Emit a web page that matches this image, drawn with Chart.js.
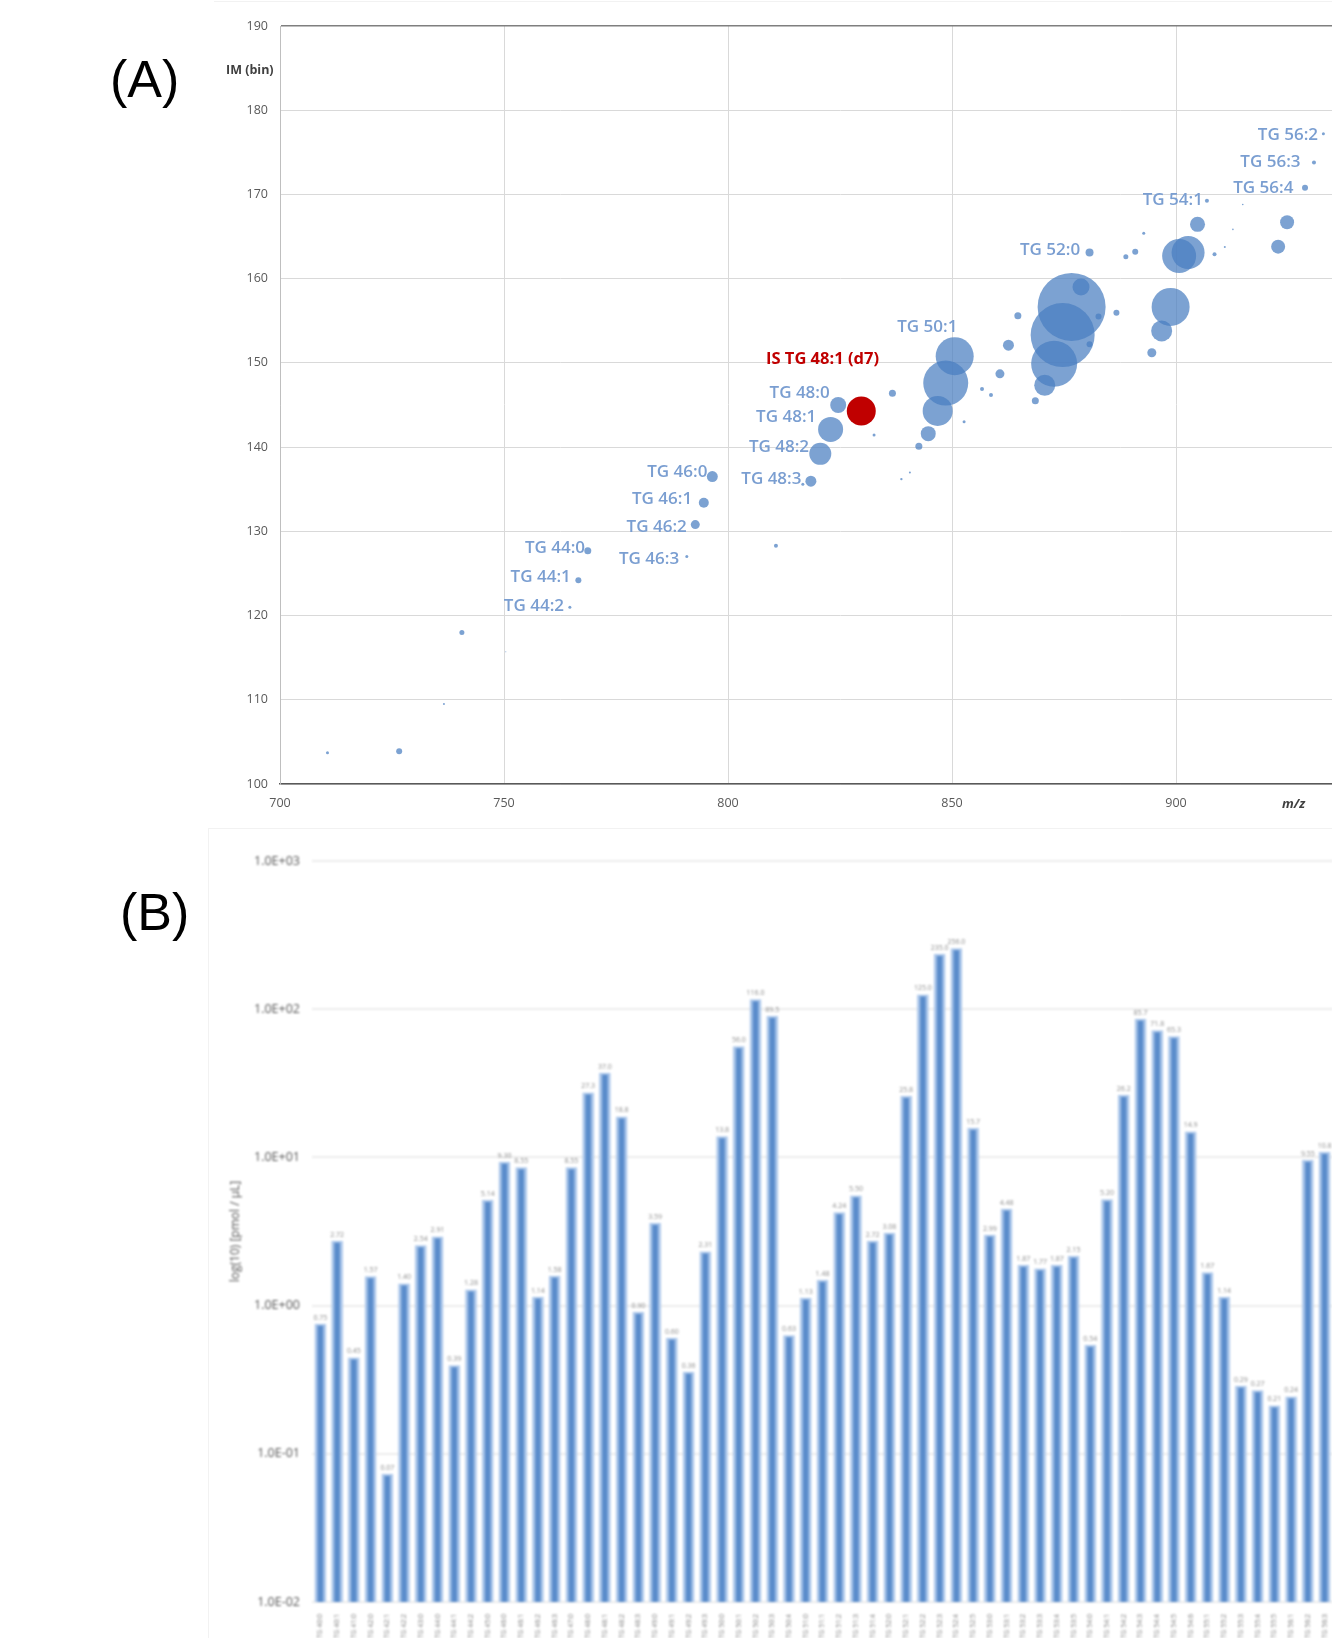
<!DOCTYPE html>
<html><head><meta charset="utf-8">
<script src="https://cdn.jsdelivr.net/npm/chart.js@4.4.1/dist/chart.umd.min.js"></script>
<style>
html,body{margin:0;padding:0;background:#fff;}
body{width:1332px;height:1638px;overflow:hidden;position:relative;font-family:'Open Sans',sans-serif;}
.plabel{position:absolute;font-family:'Liberation Sans',Arial,sans-serif;font-size:52px;line-height:52px;color:#000;}
#cA{position:absolute;left:0;top:0;}
#cB{position:absolute;left:0;top:830px;filter:blur(1px);}
.axt{position:absolute;line-height:16px;white-space:nowrap;color:#404040;}
</style></head><body>
<div style="position:absolute;left:214px;top:1px;width:1200px;height:0;border-top:1px solid #f2f2f2;"></div>
<div style="position:absolute;left:208px;top:828px;width:1200px;height:900px;border-top:1px solid #f2f2f2;border-left:1px solid #f2f2f2;"></div>
<canvas id="cA" width="1400" height="830"></canvas>
<canvas id="cB" width="1337" height="808"></canvas>
<div class="plabel" style="left:110px;top:53px;">(A)</div>
<div class="plabel" style="left:120px;top:886px;">(B)</div>
<div class="axt" style="left:226px;top:62px;font-weight:700;font-size:12.5px;">IM (bin)</div>
<div class="axt" style="left:1282px;top:795px;font-weight:700;font-style:italic;font-size:13px;">m/z</div>
<script>
// ---------- Panel A : m/z vs ion mobility bubble data ----------
const mz   = [710.6,726.6,736.6,740.6,750.4,764.7,766.6,768.7,790.8,792.7,794.6,796.5,810.7,816.7,818.5,820.6,822.9,824.6,
              832.6,836.7,838.7,840.6,842.6,844.7,846.8,848.6,850.6,852.7,856.7,858.7,860.7,862.6,864.7,868.6,870.7,872.8,
              874.7,876.7,878.8,880.7,882.7,880.7,886.7,888.8,890.9,892.8,894.6,896.8,898.8,900.7,902.7,904.8,906.9,908.6,
              910.9,912.7,914.9,922.8,924.8,928.8,930.8,932.9];
const im   = [103.7,103.9,109.5,118.0,115.7,121.0,124.2,127.7,127.0,130.8,133.4,136.5,128.3,135.6,135.95,139.2,142.1,145.0,
              141.45,146.4,136.2,137.0,140.1,141.6,144.3,147.6,150.8,143.0,146.9,146.2,148.7,152.1,155.6,145.5,147.35,149.9,
              153.3,156.65,159.0,152.2,155.5,163.1,155.95,162.6,163.2,165.4,151.2,153.8,156.65,162.7,163.1,166.45,169.25,162.9,
              163.75,165.85,168.8,163.8,166.7,170.8,173.8,177.2];
const size = [1.5,3,1,2.5,0.5,1.5,3,3.5,1.5,4.5,5,5.5,2,1.5,5.5,11,12.5,8,
              1.5,3.5,1.2,1,3.5,7.5,15,22.5,19,1.5,2,2,4.5,5.5,3.5,3.5,10.5,23,
              32,34,8.5,3,3,4,3,2.5,3,1.5,4.5,10.5,19,17,16.5,7.5,2,2,
              1,0.8,0.8,7,7,3,2,1.5];
const isMz = [829.75], isIm = [144.3], isSize = [14.5];

const labelText = ['TG 44:0','TG 44:1','TG 44:2','TG 46:3','TG 46:2','TG 46:1','TG 46:0','TG 48:3','TG 48:2','TG 48:1','TG 48:0',
                   'TG 50:1','TG 52:0','TG 54:1','TG 56:4','TG 56:3','TG 56:2'];
const labelMz   = [768.1,764.9,763.4,789.1,790.8,792.0,795.4,816.4,818.1,819.7,822.7,851.2,878.6,906.0,926.2,927.8,931.7];
const labelIm   = [128.02,124.58,121.13,126.72,130.45,133.84,137.02,136.22,139.95,143.59,146.44,154.28,163.40,169.34,170.80,173.89,177.06];
const isLabelText = ['IS TG 48:1 (d7)'], isLabelMz = [833.7], isLabelIm = [150.41];

const xTicksA = [700,750,800,850,900];
const yTicksA = [100,110,120,130,140,150,160,170,180,190];

// ---------- Panel B : concentrations (log scale) ----------
const species = ['TG 40:0','TG 40:1','TG 41:0','TG 42:0','TG 42:1','TG 42:2','TG 43:0','TG 44:0','TG 44:1','TG 44:2',
                 'TG 45:0','TG 46:0','TG 46:1','TG 46:2','TG 46:3','TG 47:0','TG 48:0','TG 48:1','TG 48:2','TG 48:3',
                 'TG 49:0','TG 49:1','TG 49:2','TG 49:3','TG 50:0','TG 50:1','TG 50:2','TG 50:3','TG 50:4','TG 51:0',
                 'TG 51:1','TG 51:2','TG 51:3','TG 51:4','TG 52:0','TG 52:1','TG 52:2','TG 52:3','TG 52:4','TG 52:5',
                 'TG 53:0','TG 53:1','TG 53:2','TG 53:3','TG 53:4','TG 53:5','TG 54:0','TG 54:1','TG 54:2','TG 54:3',
                 'TG 54:4','TG 54:5','TG 54:6','TG 55:1','TG 55:2','TG 55:3','TG 55:4','TG 55:5','TG 56:1','TG 56:2','TG 56:3'];
const conc = [0.75,2.72,0.445,1.57,0.0726,1.40,2.54,2.91,0.394,1.28,
              5.14,9.3,8.55,1.14,1.58,8.55,27.3,37.0,18.8,0.90,
              3.59,0.603,0.356,2.31,13.8,56.0,116,89.5,0.627,1.125,
              1.48,4.24,5.5,2.72,3.08,25.8,125,235,256,15.7,
              2.99,4.48,1.87,1.77,1.87,2.15,0.54,5.2,26.2,85.7,
              71.8,65.3,14.9,1.67,1.14,0.286,0.267,0.211,0.242,9.55,10.8];
const yTicksB = [0.01,0.1,1,10,100,1000];

function expLabel(v){
  const e = Math.round(Math.log10(v));
  return '1.0E' + (e < 0 ? '-' : '+') + String(Math.abs(e)).padStart(2,'0');
}
function valLabel(v){ return v >= 10 ? v.toFixed(1) : v.toFixed(2); }

const pointLabels = {
  id:'pointLabels',
  afterDatasetsDraw(chart){
    const {ctx, scales:{x,y}} = chart;
    ctx.save();
    ctx.textAlign = 'right';
    ctx.textBaseline = 'middle';
    ctx.font = "600 17px 'Open Sans'";
    ctx.fillStyle = '#7a9ed1';
    labelText.forEach((t,i)=>ctx.fillText(t, x.getPixelForValue(labelMz[i]), y.getPixelForValue(labelIm[i])));
    ctx.font = "700 16.5px 'Open Sans'";
    ctx.fillStyle = '#c00000';
    isLabelText.forEach((t,i)=>ctx.fillText(t, x.getPixelForValue(isLabelMz[i]), y.getPixelForValue(isLabelIm[i])));
    ctx.restore();
  }
};

const tickFont = {family:'Open Sans', size:12.5};
new Chart(document.getElementById('cA'), {
  type:'bubble',
  data:{datasets:[
    {data: mz.map((v,i)=>({x:v, y:im[i], r:size[i]})), backgroundColor:'rgba(74,126,193,0.72)', borderWidth:0, hoverRadius:0},
    {data: isMz.map((v,i)=>({x:v, y:isIm[i], r:isSize[i]})), backgroundColor:'#c00000', borderWidth:0, hoverRadius:0}
  ]},
  options:{
    responsive:false, animation:false, events:[],
    layout:{autoPadding:false, padding:{left:0,right:0,top:26,bottom:0}},
    plugins:{legend:{display:false}, tooltip:{enabled:false}},
    scales:{
      x:{type:'linear', min:700, max:950,
         afterBuildTicks:s=>{ s.ticks = xTicksA.map(v=>({value:v})); },
         grid:{color:'#d9d9d9', lineWidth:1, drawTicks:false},
         border:{color:'#595959', width:1.5},
         ticks:{padding:12, color:'#595959', font:tickFont},
         afterFit:s=>{ s.height = 46; }},
      y:{type:'linear', min:100, max:190,
         afterBuildTicks:s=>{ s.ticks = yTicksA.map(v=>({value:v})); },
         grid:{color:c=> (c.tick && c.tick.value===190) ? '#7f7f7f' : '#d9d9d9',
               lineWidth:c=> (c.tick && c.tick.value===190) ? 1.5 : 1, drawTicks:false},
         border:{color:'#bfbfbf', width:1},
         ticks:{padding:12, color:'#595959', font:tickFont},
         afterFit:s=>{ s.width = 280; }}
    }
  },
  plugins:[pointLabels]
});

const barValueLabels = {
  id:'barValueLabels',
  afterDatasetsDraw(chart){
    const {ctx} = chart;
    const meta = chart.getDatasetMeta(0);
    ctx.save();
    ctx.textAlign = 'center';
    ctx.textBaseline = 'bottom';
    ctx.font = "7px 'Open Sans'";
    ctx.fillStyle = '#8c8c8c';
    meta.data.forEach((bar,i)=>ctx.fillText(valLabel(conc[i]), bar.x, bar.y - 3));
    ctx.restore();
  }
};

new Chart(document.getElementById('cB'), {
  type:'bar',
  data:{labels:species, datasets:[{
    data:conc, backgroundColor:'#5a8ccb', borderColor:'#aac6ea',
    borderWidth:{left:3,right:3,top:2,bottom:0}, borderSkipped:'start', barThickness:11
  }]},
  options:{
    responsive:false, animation:false, events:[],
    layout:{padding:{left:220,right:0,top:31,bottom:0}},
    plugins:{legend:{display:false}, tooltip:{enabled:false}},
    scales:{
      x:{grid:{display:false}, border:{display:false},
         ticks:{autoSkip:false, minRotation:90, maxRotation:90, padding:4, color:'#808080', font:{family:'Open Sans', size:7}},
         afterFit:s=>{ s.height = 36; }},
      y:{type:'logarithmic', min:0.01, max:1000,
         afterBuildTicks:s=>{ s.ticks = yTicksB.map(v=>({value:v})); },
         grid:{color:'#ececec', lineWidth:2, drawTicks:false},
         border:{display:false},
         ticks:{padding:12, color:'#555', font:{family:'Open Sans', size:12.5}, callback:v=>expLabel(v)},
         title:{display:true, text:'log(10) [pmol / µL]', color:'#555', font:{family:'Open Sans', size:12}, padding:{top:8,bottom:0}},
         afterFit:s=>{ s.width = 92; }}
    }
  },
  plugins:[barValueLabels]
});
</script>
</body></html>
